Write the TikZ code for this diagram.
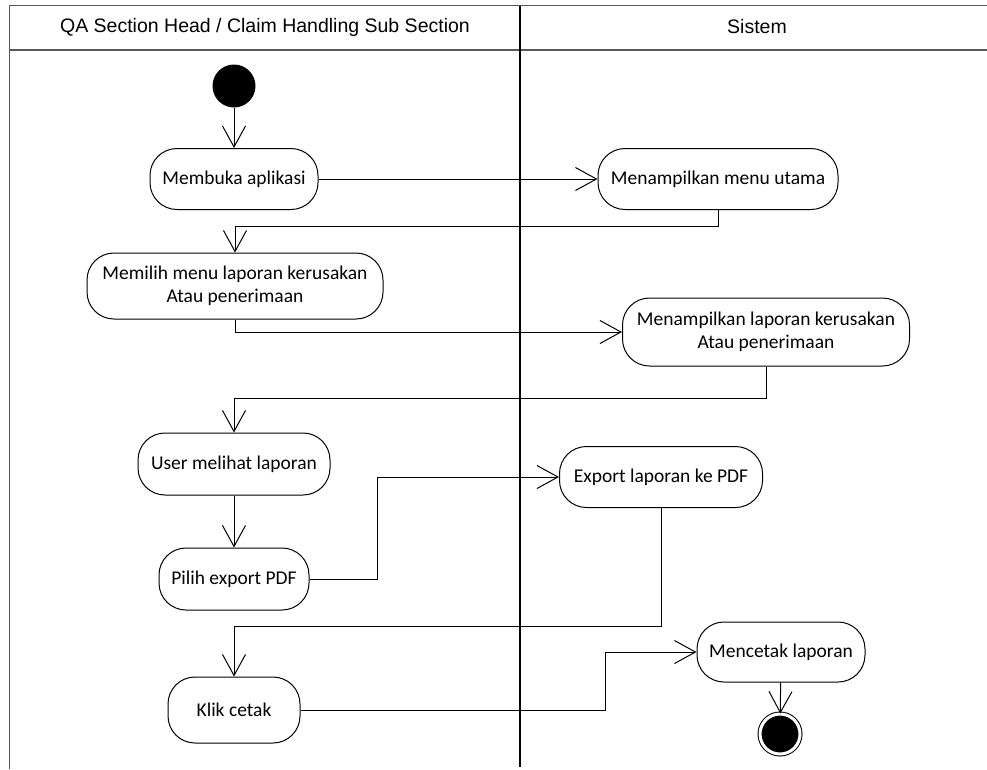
\documentclass[tikz,border=0pt]{standalone}
\usepackage{fontspec}
\setmainfont{Carlito}
\newfontfamily\headfont{Liberation Sans}
\usetikzlibrary{arrows.meta}

\begin{document}
\begin{tikzpicture}[x=1pt, y=-1pt, line width=1pt,
  >={Straight Barb[length=21pt,width=23pt]},
  act/.style={draw, rectangle, rounded corners=27pt, fill=white, minimum height=61pt,
    align=center, inner sep=0pt, font=\fontsize{19.5}{23}\selectfont},
  lane/.style={draw=black!65, line width=1.3pt},
  head/.style={font=\headfont\fontsize{19.5}{23}\selectfont},
  initial/.style={circle, fill=black, minimum size=43pt, inner sep=0pt},
  final/.style={circle, draw, fill=black, double=white, double distance=3pt,
    minimum size=40pt, inner sep=0pt}]
\useasboundingbox (0,0) rectangle (987,769);
% swimlanes
\draw[lane] (994,5.5) -- (9.5,5.5) -- (9.5,769);
\draw[lane] (9.5,50) -- (994,50);
\draw[line width=1.2pt] (520,5.5) -- (520,767);
\node[head] (hqa) at (265,27) {QA Section Head / Claim Handling Sub Section};
\node[head] (hsys) at (757,27) {Sistem};
% activities
\node[initial] (start) at (234,86) {};
\node[act, minimum width=168pt] (buka) at (234,179) {Membuka aplikasi};
\node[act, minimum width=240pt] (menu) at (718,179) {Menampilkan menu utama};
\node[act, minimum width=296pt, minimum height=66pt] (pilihmenu) at (235,286) {Memilih menu laporan kerusakan\\Atau penerimaan};
\node[act, minimum width=287pt, minimum height=68pt] (tampil) at (766,332) {Menampilkan laporan kerusakan\\Atau penerimaan};
\node[act, minimum width=192pt, minimum height=62pt] (lihat) at (234,464) {User melihat laporan};
\node[act, minimum width=150pt, minimum height=62pt] (export) at (234,579) {Pilih export PDF};
\node[act, minimum width=203pt] (pdf) at (661,477) {Export laporan ke PDF};
\node[act, minimum width=132pt, minimum height=66pt] (klik) at (234,710) {Klik cetak};
\node[act, minimum width=168pt, minimum height=60pt] (cetak) at (781,652) {Mencetak laporan};
\node[final] (end) at (780,734) {};
% flows
\draw[->] (start) -- (buka);
\draw[->] (buka) -- (menu);
\draw[->] (menu.south) -- ++(0,16) -| (pilihmenu.north);
\draw[->] (pilihmenu.south) |- (tampil.west);
\draw[->] (tampil.south) -- ++(0,32) -| (lihat.north);
\draw[->] (lihat) -- (export);
\draw[->] (export.east) -- ++(68,0) |- (pdf.west);
\draw[->] (pdf.south) -- ++(0,118) -| (klik.north);
\draw[->] (klik.east) -- ++(305,0) |- (cetak.west);
\draw[->] (cetak) -- (end);
\end{tikzpicture}
\end{document}
